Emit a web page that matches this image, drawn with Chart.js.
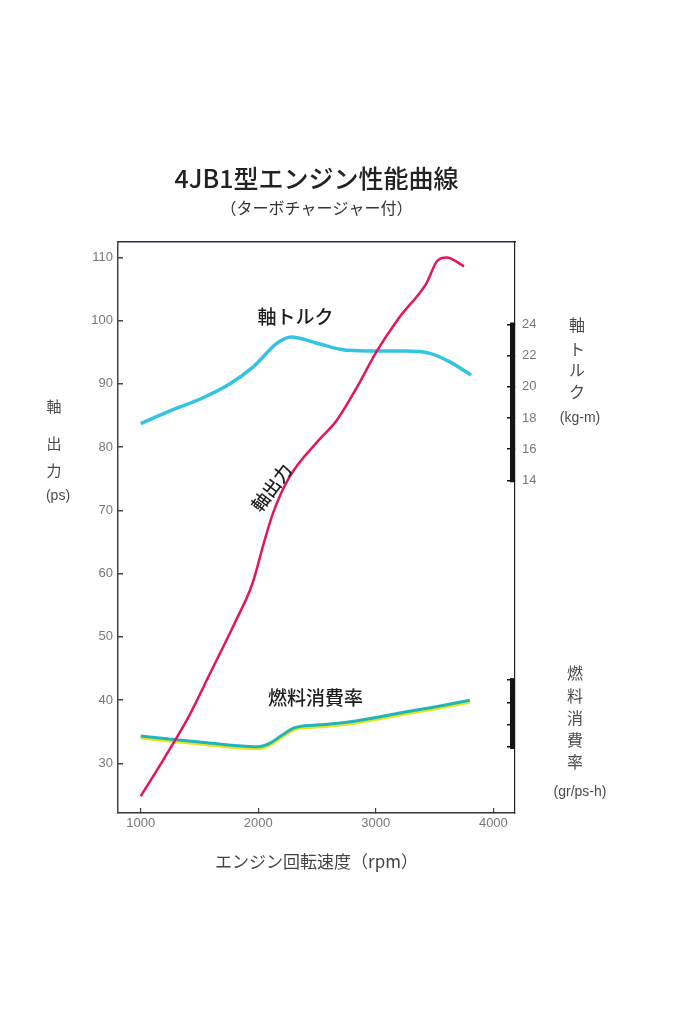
<!DOCTYPE html>
<html><head><meta charset="utf-8">
<script src="https://cdn.jsdelivr.net/npm/chart.js@4.4.0/dist/chart.umd.min.js"></script>
<style>html,body{margin:0;padding:0;background:#fff;}#wrap{position:relative;width:698px;height:1024px;}</style>
</head><body><div id="wrap"><canvas id="c"></canvas></div>
<script>
// ---- data ----
const powerRpm = [1000,1200,1400,1600,1800,1950,2050,2130,2270,2500,2670,2850,3000,3200,3430,3520,3600,3750];
const powerPs  = [24.8,30.8,37.1,44.6,52.2,58.4,65.0,69.8,75.4,80.8,84.3,89.8,94.9,100.5,105.9,109.4,110.0,108.6];
const torqueRpm = [1000,1250,1530,1760,1960,2160,2280,2500,2750,3030,3250,3460,3630,3810];
const torqueKgm = [17.65,18.45,19.3,20.2,21.3,22.8,23.2,22.8,22.35,22.3,22.3,22.15,21.6,20.75];
const fuelRpm = [1000,1300,1600,1800,2000,2100,2200,2300,2500,2700,3000,3250,3500,3800];
const fuelGr  = [170,166.5,163.5,161.5,160.3,163.5,170.5,177,179.7,181.5,186.5,191.5,196,202];
const rpmTicks = [1000,2000,3000,4000];
const psTicks = [30,40,50,60,70,80,90,100,110];
const torqueTicks = [14,16,18,20,22,24];
const fuelTicks = [160,180,200,220];

const pts = (xs, ys) => xs.map((x, i) => ({x, y: ys[i]}));
const CJK = '"Noto Sans CJK JP", "Noto Sans", sans-serif';
const NUM = '"Liberation Sans", Arial, sans-serif';
const tickFont = {family: NUM, size: 13};
const fixTicks = arr => s => { s.ticks = arr.map(v => ({value: v})); };
const plain = v => String(v);

const decor = {
  id: 'decor',
  beforeDatasetDraw(chart, args) {
    if (args.index === 2) {
      const c = chart.ctx;
      c.save();
      c.shadowColor = '#e8e41c'; c.shadowOffsetY = 2; c.shadowOffsetX = 0; c.shadowBlur = 0;
    }
  },
  afterDatasetDraw(chart, args) {
    if (args.index === 2) chart.ctx.restore();
  },
  afterDraw(chart) {
    const {ctx, chartArea, scales} = chart;
    ctx.save();
    // thick partial axis bars on the right
    ctx.strokeStyle = '#151515'; ctx.lineWidth = 5; ctx.lineCap = 'butt';
    const xb = chartArea.right - 2.5;
    [[scales.yT, torqueTicks], [scales.yF, fuelTicks]].forEach(([s, t]) => {
      const y1 = s.getPixelForValue(t[0]) + 2;
      const y2 = s.getPixelForValue(t[t.length - 1]) - 2;
      ctx.beginPath(); ctx.moveTo(xb, y1); ctx.lineTo(xb, y2); ctx.stroke();
    });
    // vertical axis titles
    ctx.textAlign = 'center'; ctx.textBaseline = 'middle';
    ctx.fillStyle = '#4a4a4a';
    ctx.font = '15px ' + CJK;
    [['軸', 406], ['出', 443], ['力', 470]].forEach(([t, y]) => ctx.fillText(t, 54, y));
    ctx.font = '14px ' + NUM;
    ctx.fillText('(ps)', 58, 496);
    ctx.font = '16px ' + CJK;
    [['軸', 325], ['ト', 349], ['ル', 370], ['ク', 392]].forEach(([t, y]) => ctx.fillText(t, 577, y));
    ctx.font = '14px ' + NUM;
    ctx.fillText('(kg-m)', 580, 418);
    ctx.font = '16px ' + CJK;
    [['燃', 673], ['料', 696], ['消', 718], ['費', 740], ['率', 762]].forEach(([t, y]) => ctx.fillText(t, 575, y));
    ctx.font = '14px ' + NUM;
    ctx.fillText('(gr/ps-h)', 580, 792);
    // inline curve labels anchored to the scales
    ctx.fillStyle = '#1e1e1e';
    ctx.font = '500 19px ' + CJK;
    ctx.fillText('軸トルク', scales.x.getPixelForValue(2316), scales.yT.getPixelForValue(24.5));
    ctx.fillText('燃料消費率', scales.x.getPixelForValue(2486), scales.yF.getPixelForValue(204));
    ctx.translate(scales.x.getPixelForValue(2112), scales.y.getPixelForValue(73.6));
    ctx.rotate(-53 * Math.PI / 180);
    ctx.font = '500 18px ' + CJK;
    ctx.fillText('軸出力', 0, 0);
    ctx.restore();
  }
};

new Chart(document.getElementById('c'), {
  type: 'line',
  data: {
    datasets: [
      {label: '軸出力', data: pts(powerRpm, powerPs), yAxisID: 'y', borderColor: '#e3155f', borderWidth: 2.5},
      {label: '軸トルク', data: pts(torqueRpm, torqueKgm), yAxisID: 'yT', borderColor: '#33c4e4', borderWidth: 3.5},
      {label: '燃料消費率', data: pts(fuelRpm, fuelGr), yAxisID: 'yF', borderColor: '#22b4bc', borderWidth: 3}
    ]
  },
  plugins: [decor],
  options: {
    responsive: true, maintainAspectRatio: false, animation: false,
    layout: {padding: 0},
    elements: {point: {radius: 0}, line: {cubicInterpolationMode: 'monotone', fill: false}},
    plugins: {
      legend: {display: false}, tooltip: {enabled: false},
      title: {display: true, fullSize: false, text: '4JB1型エンジン性能曲線', color: '#222',
        font: {family: CJK, size: 25, weight: '500', lineHeight: 1.2}, padding: {top: 163, bottom: 0}},
      subtitle: {display: true, fullSize: false, text: '（ターボチャージャー付）', color: '#333',
        font: {family: CJK, size: 16, weight: 'normal', lineHeight: 1.2}, padding: {top: 5, bottom: 24.4}}
    },
    scales: {
      x: {type: 'linear', position: 'bottom', min: 807, max: 4184,
        afterBuildTicks: fixTicks(rpmTicks), afterFit: s => { s.height = 211; },
        grid: {drawOnChartArea: false, drawTicks: true, tickLength: -5, color: '#444', lineWidth: 1.2},
        border: {display: true, color: '#3d3530', width: 1.5},
        ticks: {font: tickFont, color: '#777', padding: 8, maxRotation: 0, callback: plain},
        title: {display: true, text: 'エンジン回転速度（rpm）', color: '#444',
          font: {family: CJK, size: 17, lineHeight: 1.2}, padding: {top: 0, bottom: 151.8}}},
      xTop: {type: 'linear', position: 'top', min: 807, max: 4184, afterFit: s => { s.height = 0; },
        grid: {display: false, drawTicks: false}, ticks: {display: false},
        border: {display: true, color: '#2b2b48', width: 1.5}},
      y: {type: 'linear', position: 'left', min: 22.15, max: 112.5,
        afterBuildTicks: fixTicks(psTicks), afterFit: s => { s.width = 118; },
        grid: {drawOnChartArea: false, drawTicks: true, tickLength: -5, color: '#444', lineWidth: 1.5},
        border: {display: true, color: '#444', width: 1.5},
        ticks: {font: tickFont, color: '#777', padding: 10, callback: plain}},
      yF: {type: 'linear', position: 'right', weight: 0, min: 100.9, max: 613.1,
        afterBuildTicks: fixTicks(fuelTicks), afterFit: s => { s.width = 0; },
        grid: {drawOnChartArea: false, drawTicks: true, tickLength: -8, color: '#111', lineWidth: 1.5},
        border: {display: false},
        ticks: {font: tickFont, color: '#777', padding: 14, callback: plain}},
      yT: {type: 'linear', position: 'right', weight: 1, min: -7.35, max: 29.32,
        afterBuildTicks: fixTicks(torqueTicks), afterFit: s => { s.width = 183; },
        grid: {drawOnChartArea: false, drawTicks: true, tickLength: -8, color: '#111', lineWidth: 1.5},
        border: {display: true, color: '#222', width: 1.2},
        ticks: {font: tickFont, color: '#777', padding: 15, callback: plain}}
    }
  }
});
</script></body></html>
